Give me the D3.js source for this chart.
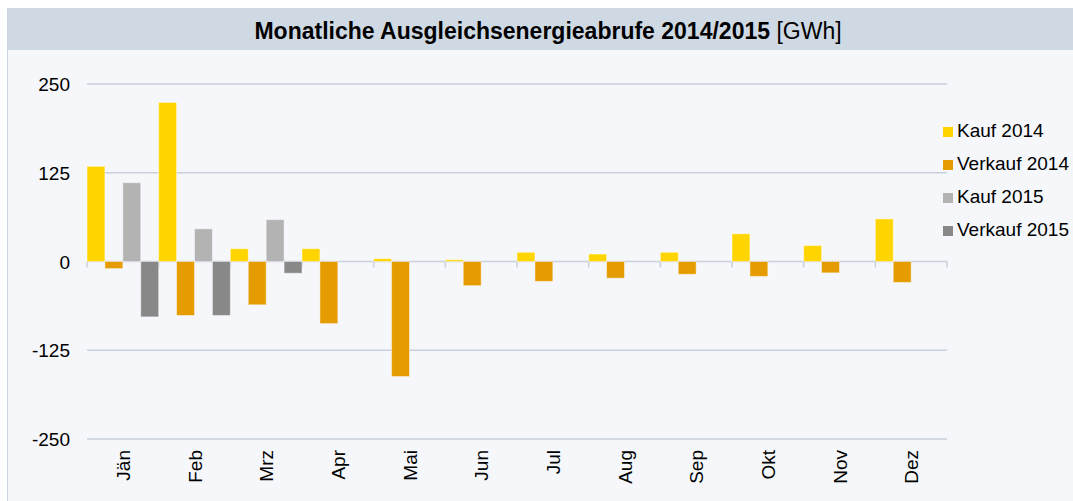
<!DOCTYPE html>
<html>
<head>
	<meta charset="utf-8">
	<title>Monatliche Ausgleichsenergieabrufe</title>
	<script src="https://cdn.jsdelivr.net/npm/d3@7"></script>
	<style type="text/css">
		body { margin: 0; background: #fff; }
		svg { display: block; font-family: Arial, "Liberation Sans", sans-serif; }
	</style>
</head>
<body>
	<svg width=1073 height=501 class="chart"></svg>
	<script type="text/javascript">

		// values in GWh
		months = ['Jän','Feb','Mrz','Apr','Mai','Jun','Jul','Aug','Sep','Okt','Nov','Dez']
		kauf2014 = [134, 224, 18, 18, 4, 2.5, 13, 10.5, 13, 39, 22.5, 60]
		verkauf2014 = [-10, -76, -61, -87.5, -162, -34, -28, -23.5, -18, -21, -16, -29.5]
		kauf2015 = [111, 46, 59, null, null, null, null, null, null, null, null, null]
		verkauf2015 = [-78, -76, -16.5, null, null, null, null, null, null, null, null, null]
		yTicks = [-250, -125, 0, 125, 250]

		seriesNames = ['Kauf 2014', 'Verkauf 2014', 'Kauf 2015', 'Verkauf 2015']
		seriesValues = [kauf2014, verkauf2014, kauf2015, verkauf2015]
		colors = ['#ffd500', '#e59c00', '#b3b3b3', '#888888']

		svg = d3.select('.chart')

		// frame + title band
		svg.append('rect')
			.attr('x', 7.5).attr('y', 8.5)
			.attr('width', 1090).attr('height', 500)
			.attr('fill', '#f5f7fb')
			.attr('stroke', '#cdd7e2')
		svg.append('rect')
			.attr('x', 8).attr('y', 9)
			.attr('width', 1090).attr('height', 41)
			.attr('fill', '#cfd9e4')

		title = svg.append('text')
			.attr('x', 548).attr('y', 39)
			.attr('text-anchor', 'middle')
			.attr('fill', '#000')
			.style('font-size', '23px')
		title.append('tspan').attr('font-weight', 'bold').text('Monatliche Ausgleichsenergieabrufe 2014/2015')
		title.append('tspan').text(' [GWh]')

		x = d3.scaleBand().domain(months).range([87, 947]).padding(0)
		xInner = d3.scaleBand().domain(seriesNames).range([0, x.bandwidth()]).padding(0)
		y = d3.scaleLinear().domain([-250, 250]).range([439, 84])

		// gridlines
		svg.append('g')
			.selectAll('line')
			.data(yTicks)
			.enter()
			.append('line')
			.attr('x1', 87).attr('x2', 947)
			.attr('y1', function(d) {return y(d)})
			.attr('y2', function(d) {return y(d)})
			.attr('stroke', '#c9d1dd')
			.attr('stroke-width', 1.5)

		svg.append('g')
			.selectAll('text')
			.data(yTicks)
			.enter()
			.append('text')
			.attr('x', 70)
			.attr('y', function(d) {return y(d) + 7})
			.attr('text-anchor', 'end')
			.style('font-size', '19px')
			.attr('fill', '#000')
			.text(function(d) {return d})

		// ticks at category boundaries
		boundaries = months.map(function(m) {return x(m)}).concat([x(months[11]) + x.bandwidth()])
		svg.append('g')
			.selectAll('line')
			.data(boundaries)
			.enter()
			.append('line')
			.attr('x1', function(d) {return d}).attr('x2', function(d) {return d})
			.attr('y1', y(0)).attr('y2', y(0) + 6)
			.attr('stroke', '#c9d1dd')
			.attr('stroke-width', 1.5)

		// bars
		seriesValues.forEach(function(vals, i) {
			svg.append('g')
				.selectAll('rect')
				.data(vals.map(function(v, j) {return {m: months[j], v: v}}).filter(function(d) {return d.v !== null}))
				.enter()
				.append('rect')
				.attr('x', function(d) {return x(d.m) + xInner(seriesNames[i])})
				.attr('y', function(d) {return y(Math.max(0, d.v))})
				.attr('width', xInner.bandwidth())
				.attr('height', function(d) {return Math.abs(y(d.v) - y(0))})
				.attr('fill', colors[i])
				.attr('stroke', '#ffffff')
				.attr('stroke-opacity', 0.45)
				.attr('stroke-width', 1)
		})

		// month labels
		svg.append('g')
			.selectAll('text')
			.data(months)
			.enter()
			.append('text')
			.attr('transform', function(d) {return 'translate(' + (x(d) + x.bandwidth() / 2 + 7) + ',450) rotate(-90)'})
			.attr('text-anchor', 'end')
			.style('font-size', '19px')
			.attr('fill', '#000')
			.text(function(d) {return d})

		// legend
		legend = svg.append('g')
			.selectAll('g')
			.data(seriesNames)
			.enter()
			.append('g')
			.attr('transform', function(d, i) {return 'translate(943,' + (127 + i * 33) + ')'})
		legend.append('rect')
			.attr('width', 10).attr('height', 10)
			.attr('fill', function(d, i) {return colors[i]})
		legend.append('text')
			.attr('x', 14).attr('y', 10)
			.style('font-size', '19px')
			.attr('fill', '#000')
			.text(function(d) {return d})

	</script>
</body>
</html>
